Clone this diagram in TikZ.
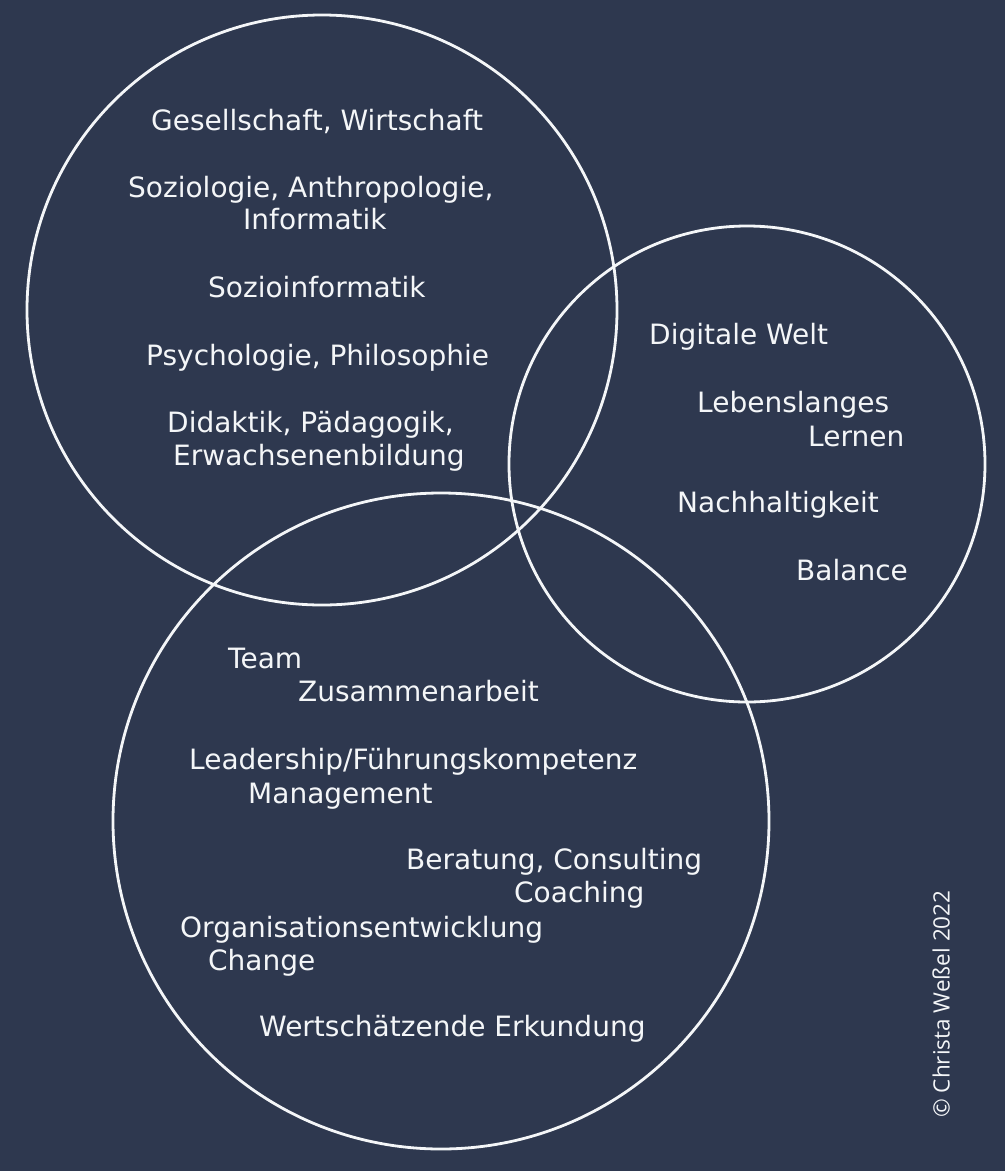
\documentclass[tikz,border=0pt]{standalone}
\usepackage{fontspec}
\setmainfont{DejaVu Sans}
\newfontfamily\copyfont{Open Sans}
\definecolor{bg}{HTML}{2E384F}
\definecolor{fg}{HTML}{F4F6F8}
\begin{document}
\begin{tikzpicture}[x=1pt,y=-1pt,
  ring/.style={draw=fg,line width=2.8pt},
  lbl/.style={anchor=base west,inner sep=0pt,text=fg,font=\fontsize{28}{32}\selectfont}]
\fill[bg] (0,0) rectangle (1005,1171);
\useasboundingbox (0,0) rectangle (1005,1171);
\node[ring,circle,minimum size=590pt,inner sep=0pt] (c1) at (322,310) {};
\node[ring,circle,minimum size=476pt,inner sep=0pt] (c2) at (747,464) {};
\node[ring,circle,minimum size=656pt,inner sep=0pt] (c3) at (441,821) {};
% circle 1
\node[lbl] (t1) at (151,130) {Gesellschaft, Wirtschaft};
\node[lbl] (t2) at (128,197) {Soziologie, Anthropologie,};
\node[lbl] (t3) at (243,229) {Informatik};
\node[lbl] (t4) at (208,297) {Sozioinformatik};
\node[lbl] (t5) at (146,365) {Psychologie, Philosophie};
\node[lbl] (t6) at (167,432) {Didaktik, Pädagogik,};
\node[lbl] (t7) at (173,465) {Erwachsenenbildung};
% circle 2
\node[lbl] (u1) at (649,344) {Digitale Welt};
\node[lbl] (u2) at (697,412) {Lebenslanges};
\node[lbl] (u3) at (808,446) {Lernen};
\node[lbl] (u4) at (677,512) {Nachhaltigkeit};
\node[lbl] (u5) at (796,580) {Balance};
% circle 3
\node[lbl] (v1) at (228,668) {Team};
\node[lbl] (v2) at (298,701) {Zusammenarbeit};
\node[lbl] (v3) at (189,769) {Leadership/Führungskompetenz};
\node[lbl] (v4) at (248,803) {Management};
\node[lbl] (v5) at (406,869) {Beratung, Consulting};
\node[lbl] (v6) at (514,902) {Coaching};
\node[lbl] (v7) at (180,937) {Organisationsentwicklung};
\node[lbl] (v8) at (208,970) {Change};
\node[lbl] (v9) at (259,1036) {Wertschätzende Erkundung};
\node[text=fg,font=\copyfont\fontsize{22.5}{26}\selectfont,rotate=90,inner sep=0pt] (cp) at (941,1004) {© Christa Weßel 2022};
\end{tikzpicture}
\end{document}
